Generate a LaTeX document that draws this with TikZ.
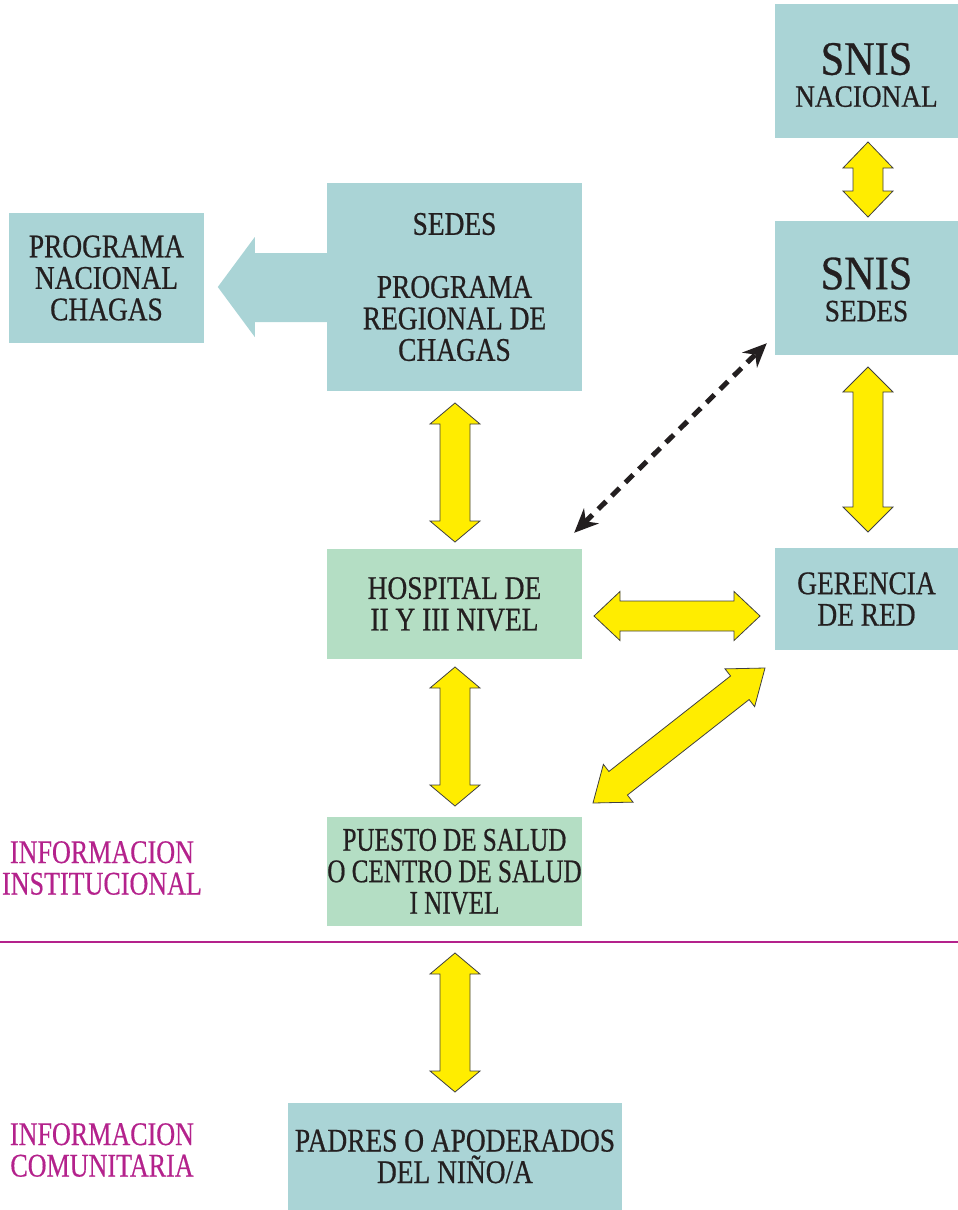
\documentclass[tikz,border=0pt]{standalone}
\usepackage{fontspec}
\setmainfont{Liberation Serif}[FakeStretch=0.83,FakeBold=0.6]
\newfontfamily\narrowfont{Liberation Serif}[FakeStretch=0.76,FakeBold=0.6]
\newfontfamily\lblfont{Liberation Serif}[FakeStretch=0.79,FakeBold=0.4]
\newfontfamily\widefont{Liberation Serif}[FakeStretch=0.88,FakeBold=0.6]
\usetikzlibrary{calc,arrows.meta}
\definecolor{boxteal}{RGB}{170,212,214}
\definecolor{boxgreen}{RGB}{180,222,196}
\definecolor{txt}{RGB}{35,31,32}
\definecolor{mag}{RGB}{180,34,140}
\definecolor{yel}{RGB}{255,237,0}
\newcommand\yarr[5]{%
  \coordinate (yb1) at ($(#1)!#3!(#2)$);
  \coordinate (yb2) at ($(#2)!#3!(#1)$);
  \draw[yarrow] (#1) -- ($(yb1)!#4!90:(#2)$) -- ($(yb1)!#5!90:(#2)$)
    -- ($(yb2)!#5!-90:(#1)$) -- ($(yb2)!#4!-90:(#1)$) -- (#2)
    -- ($(yb2)!#4!90:(#1)$) -- ($(yb2)!#5!90:(#1)$)
    -- ($(yb1)!#5!-90:(#2)$) -- ($(yb1)!#4!-90:(#2)$) -- cycle;}
\begin{document}
\begin{tikzpicture}[x=1pt,y=-1pt,
  box/.style={rectangle, inner sep=0pt, align=center, text=txt, font=\fontsize{33}{31.5}\selectfont},
  tealbox/.style={box, fill=boxteal},
  greenbox/.style={box, fill=boxgreen},
  plaintext/.style={inner sep=0pt, align=center, text=txt},
  yarrow/.style={fill=yel, draw=black!75, line width=0.8pt, line join=miter},
  lbl/.style={text=mag, align=center, inner sep=0pt, font=\lblfont\fontsize{33}{31.5}\selectfont},
  dasharrow/.style={line width=5pt, dash pattern=on 11pt off 8pt, draw=txt,
    {Stealth[length=24pt,width=21pt,fill=txt]}-{Stealth[length=24pt,width=21pt,fill=txt]}}
]
\useasboundingbox (0,0) rectangle (958,1210);

% boxes
\node[tealbox, minimum width=195pt, minimum height=130pt] (prog) at (106.5,278) {PROGRAMA\\NACIONAL\\CHAGAS};
\node[tealbox, minimum width=255pt, minimum height=208pt] (sedes) at (454.5,287) {SEDES\\[31.5pt]PROGRAMA\\REGIONAL DE\\CHAGAS};
\node[tealbox, minimum width=183pt, minimum height=134pt] (snisn) at (866.5,71) {};
\node[plaintext] (snisnt) at ($(snisn.center)+(0,4)$) {{\widefont\fontsize{48}{48}\selectfont SNIS}\\[10pt]{\widefont\fontsize{31}{31}\selectfont NACIONAL}};
\node[tealbox, minimum width=183pt, minimum height=134pt] (sniss) at (866.5,288) {};
\node[plaintext] (snisst) at ($(sniss.center)+(0,1.5)$) {{\widefont\fontsize{48}{48}\selectfont SNIS}\\[10pt]{\widefont\fontsize{31}{31}\selectfont SEDES}};
\node[greenbox, minimum width=255pt, minimum height=110pt] (hosp) at (454.5,604) {HOSPITAL DE\\II Y III NIVEL};
\node[tealbox, minimum width=183pt, minimum height=102pt] (ger) at (866.5,599) {GERENCIA\\DE RED};
\node[greenbox, minimum width=255pt, minimum height=109pt, font=\narrowfont\fontsize{33}{31.5}\selectfont] (puesto) at (454.5,871.5) {PUESTO DE SALUD\\O CENTRO DE SALUD\\I NIVEL};
\node[tealbox, minimum width=334pt, minimum height=107pt] (padres) at (455,1156.5) {PADRES O APODERADOS\\DEL NIÑO/A};

% big teal arrow SEDES -> programa nacional
\fill[boxteal] ($(sedes.west)+(1,-34)$) -- ($(sedes.west)+(-72,-34)$) -- ($(sedes.west)+(-72,-50)$)
  -- ($(sedes.west)+(-109,0)$) -- ($(sedes.west)+(-72,50)$) -- ($(sedes.west)+(-72,35)$)
  -- ($(sedes.west)+(1,35)$) -- cycle;

% yellow double arrows
\coordinate (a1s) at (455,403);  \coordinate (a1e) at (455,542);
\coordinate (a2s) at (455,667);  \coordinate (a2e) at (455,806);
\coordinate (a3s) at (455,953);  \coordinate (a3e) at (455,1092);
\coordinate (a4s) at (868,142);  \coordinate (a4e) at (868,217);
\coordinate (a5s) at (868,367);  \coordinate (a5e) at (868,532);
\coordinate (a6s) at (594,616);  \coordinate (a6e) at (760,616);
\coordinate (a7s) at (593,803);  \coordinate (a7e) at (765,668);
\yarr{a1s}{a1e}{21pt}{25pt}{15pt}
\yarr{a2s}{a2e}{21pt}{25pt}{15pt}
\yarr{a3s}{a3e}{21pt}{25pt}{15pt}
\yarr{a4s}{a4e}{26pt}{25pt}{15pt}
\yarr{a5s}{a5e}{25pt}{25pt}{15pt}
\yarr{a6s}{a6e}{26pt}{24.5pt}{15pt}
\yarr{a7s}{a7e}{32pt}{24pt}{15pt}

% dashed double arrow
\coordinate (d1) at ($(hosp.north east)+(-8,-16)$);
\coordinate (d2) at ($(sniss.south west)+(-8,-12)$);
\draw[dasharrow] (d1) -- (d2);

% separator and labels
\coordinate (sepL) at (0,942);
\coordinate (sepR) at (958,942);
\draw[mag, line width=2.5pt] (sepL) -- (sepR);
\node[lbl] (inst) at (102,868) {INFORMACION\\INSTITUCIONAL};
\node[lbl] (comu) at (102,1150) {INFORMACION\\COMUNITARIA};
\end{tikzpicture}
\end{document}
